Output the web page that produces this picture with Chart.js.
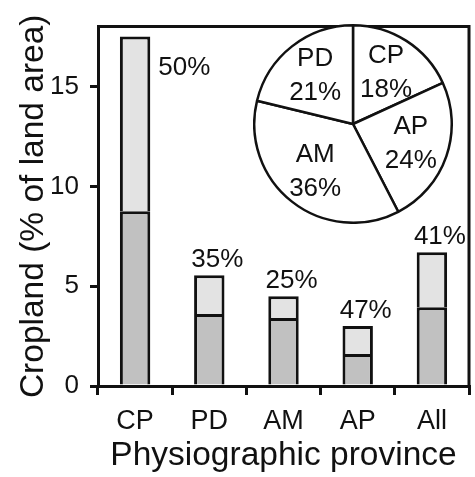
<!DOCTYPE html>
<html>
<head>
<meta charset="utf-8">
<script src="https://cdn.jsdelivr.net/npm/chart.js@4"></script>
<style>
  body { margin: 0; background: #fff; }
  #wrap { position: relative; width: 475px; height: 477px; }
  #bars { display: block; }
  #pie { position: absolute; left: 253px; top: 24px; }
</style>
</head>
<body>
<div id="wrap">
  <canvas id="bars" width="475" height="477"></canvas>
  <canvas id="pie" width="200" height="200"></canvas>
</div>
<script>
// ─── Data ─────────────────────────────────────────────────────────────────
const provinces   = ['CP', 'PD', 'AM', 'AP', 'All'];
const lowerPart   = [8.75, 3.6, 3.4, 1.6, 3.95];
const upperPart   = [8.75, 1.95, 1.1, 1.4, 2.75];
const shareLabels = ['50%', '35%', '25%', '47%', '41%'];
const yTicks      = [0, 5, 10, 15];

const pieNames  = ['CP', 'AP', 'AM', 'PD'];
const pieShares = [18, 24, 36, 21];

const FONT = '"Liberation Sans", Arial, sans-serif';

// ─── Frame round the plot area (top + right) ──────────────────────────────
const framePlugin = {
    id: 'frame',
    afterDraw: function (chart) {
        const a = chart.chartArea;
        const ctx = chart.ctx;
        ctx.save();
        ctx.strokeStyle = '#111';
        ctx.lineWidth = 3;
        ctx.beginPath();
        ctx.moveTo(a.left, a.top);
        ctx.lineTo(a.right, a.top);
        ctx.lineTo(a.right, a.bottom);
        ctx.stroke();
        ctx.restore();
    }
};

// ─── Percent labels over the bars ─────────────────────────────────────────
const shareLabelPlugin = {
    id: 'shareLabels',
    afterDatasetsDraw: function (chart) {
        const ctx = chart.ctx;
        const meta = chart.getDatasetMeta(1);
        ctx.save();
        ctx.fillStyle = '#111';
        ctx.font = '26px ' + FONT;
        meta.data.forEach(function (bar, i) {
            if (i === 0) {
                // tall first bar: label sits beside it
                ctx.textAlign = 'left';
                ctx.textBaseline = 'middle';
                ctx.fillText(shareLabels[i], bar.x + bar.width / 2 + 8, bar.y + 31);
            } else {
                ctx.textAlign = 'center';
                ctx.textBaseline = 'alphabetic';
                ctx.fillText(shareLabels[i], bar.x + 8, bar.y - 8);
            }
        });
        ctx.restore();
    }
};

new Chart(document.getElementById('bars'), {
    type: 'bar',
    data: {
        labels: provinces,
        datasets: [
            {
                data: lowerPart,
                backgroundColor: '#c1c1c1',
                borderColor: '#111',
                borderWidth: 3,
            },
            {
                data: upperPart,
                backgroundColor: '#e3e3e3',
                borderColor: '#111',
                borderWidth: 3,
            }
        ]
    },
    options: {
        responsive: false,
        animation: false,
        barPercentage: 0.41,
        categoryPercentage: 1,
        layout: { padding: { top: 16, right: 6, left: 0, bottom: 0 } },
        plugins: {
            legend: { display: false },
            tooltip: { enabled: false }
        },
        scales: {
            x: {
                stacked: true,
                grid: { drawOnChartArea: false, color: '#111', lineWidth: 3, tickLength: 9 },
                border: { display: true, color: '#111', width: 3 },
                ticks: { color: '#111', padding: 10, font: { family: FONT, size: 27 } },
                title: {
                    display: true,
                    text: 'Physiographic province',
                    color: '#111',
                    font: { family: FONT, size: 33.5 },
                    padding: { top: 0, bottom: 1 }
                },
                afterFit: function (scale) { scale.height = 91; }
            },
            y: {
                stacked: true,
                min: 0,
                max: 18,
                afterBuildTicks: function (scale) {
                    scale.ticks = yTicks.map(function (v) { return { value: v }; });
                },
                grid: { drawOnChartArea: false, color: '#111', lineWidth: 3, tickLength: 8 },
                border: { display: true, color: '#111', width: 3 },
                ticks: { color: '#111', padding: 11, font: { family: FONT, size: 26 } },
                title: {
                    display: true,
                    text: 'Cropland (% of land area)',
                    color: '#111',
                    font: { family: FONT, size: 33.5 },
                    padding: { top: 14, bottom: 0 }
                },
                afterFit: function (scale) { scale.width = 98; }
            }
        }
    },
    plugins: [framePlugin, shareLabelPlugin]
});

// ─── Inset pie ────────────────────────────────────────────────────────────
const pieLabelPlugin = {
    id: 'pieLabels',
    afterDatasetsDraw: function (chart) {
        const ctx = chart.ctx;
        const meta = chart.getDatasetMeta(0);
        ctx.save();
        ctx.fillStyle = '#111';
        ctx.font = '26px ' + FONT;
        ctx.textAlign = 'center';
        ctx.textBaseline = 'middle';
        meta.data.forEach(function (arc, i) {
            const p = arc.getProps(['x', 'y', 'startAngle', 'endAngle', 'outerRadius'], true);
            const mid = (p.startAngle + p.endAngle) / 2;
            const r = p.outerRadius * 0.62;
            const cx = p.x + Math.cos(mid) * r;
            const cy = p.y + Math.sin(mid) * r;
            ctx.fillText(pieNames[i], cx, cy - 17);
            ctx.fillText(pieShares[i] + '%', cx, cy + 17);
        });
        ctx.restore();
    }
};

new Chart(document.getElementById('pie'), {
    type: 'pie',
    data: {
        labels: pieNames,
        datasets: [{
            data: pieShares,
            backgroundColor: '#fff',
            borderColor: '#111',
            borderWidth: 2.5,
        }]
    },
    options: {
        responsive: false,
        animation: false,
        plugins: {
            legend: { display: false },
            tooltip: { enabled: false }
        }
    },
    plugins: [pieLabelPlugin]
});
</script>
</body>
</html>
